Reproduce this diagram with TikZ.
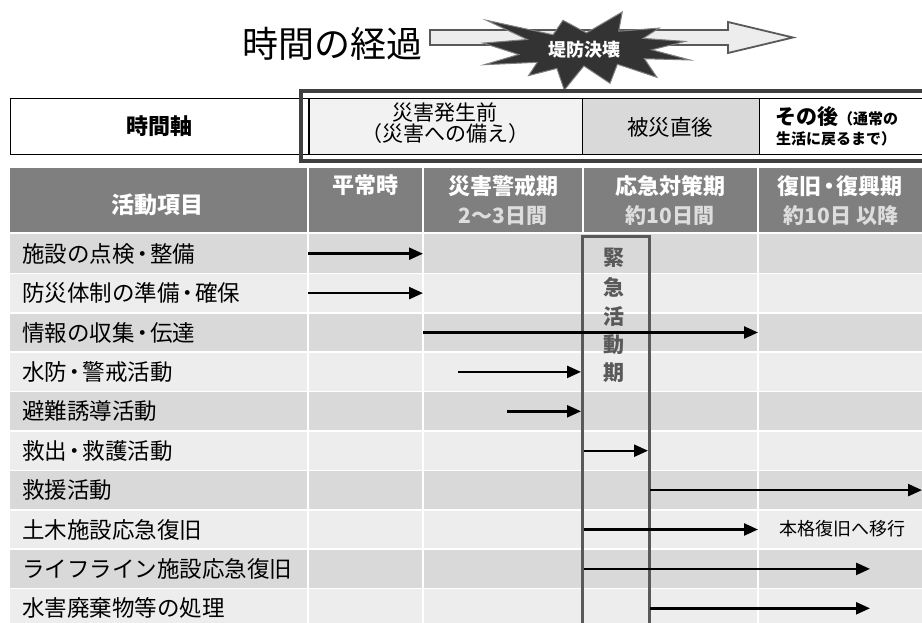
\documentclass[tikz,border=0pt]{standalone}
\usepackage{fontspec}
\setmainfont{Noto Sans CJK JP}
\usetikzlibrary{arrows.meta}
\definecolor{hdr}{HTML}{7F7F7F}
\definecolor{rowA}{HTML}{D9D9D9}
\definecolor{rowB}{HTML}{EDEDED}
\definecolor{frameC}{HTML}{404040}
\definecolor{boxC}{HTML}{595959}
\definecolor{cellA}{HTML}{F2F2F2}
\definecolor{cellB}{HTML}{D9D9D9}
\definecolor{starC}{HTML}{333333}
\definecolor{subC}{HTML}{DDDDDD}
\newcommand\fsz[1]{\fontsize{#1}{#1}\selectfont}
\newcommand\nkg{\kern-3.5pt・\kern-3.5pt}
\begin{document}
\begin{tikzpicture}[x=1pt,y=-1pt,
  actarrow/.style={line width=2.4pt,-{Triangle[length=14pt,width=12pt]}},
  rowlabel/.style={anchor=west,inner sep=0pt,font=\fsz{22.5}},
  hdrtext/.style={text=white,font=\fsz{22}\bfseries,align=center,inner sep=0pt},
  subtext/.style={text=subC,font=\fsz{21}\bfseries,inner sep=0pt},
  topcell/.style={draw=black,line width=0.8pt,inner sep=0pt,align=center},
  vchar/.style={inner sep=0pt,text=boxC,font=\fsz{21}\bfseries},
  sepline/.style={white,line width=1.6pt}]
\useasboundingbox (0,0) rectangle (922,623);
\clip (0,0) rectangle (922,623);
\fill[white] (0,0) rectangle (922,623);

% --- time arrow ---
\node[inner sep=0pt,font=\fsz{36}] (keika) at (332,44) {時間の経過};
\draw[boxC,line width=1.8pt,fill=rowB] (430,30) -- (728,30) -- (728,22) -- (793,37.5) -- (728,53) -- (728,45) -- (430,45) -- cycle;
\draw[gray,line width=1pt,fill=starC]
 (586.5,32.9) -- (622.2,12) -- (618.7,31.2) -- (659.1,28.1) -- (643.1,38.4) -- (685.2,41.4)
 -- (651.7,49.8) -- (690,60) -- (644.4,58.7) -- (656.9,77.3) -- (617.4,64.2) -- (610,83.3)
 -- (583.9,65.9) -- (564.3,90) -- (556.9,68.4) -- (528.6,75.6) -- (537.3,62.3) -- (484.3,64.7)
 -- (518.7,54.5) -- (483,43.1) -- (527.3,39.5) -- (486.5,20.3) -- (553.1,34.8) -- (563,20.3) -- cycle;
\node[inner sep=0pt,text=white,font=\fsz{18}\bfseries] (kekkai) at (584,50) {堤防決壊};

% --- header row 1 ---
\node[topcell,fill=white,minimum width=298pt,minimum height=56pt,font=\fsz{22}\bfseries] (jikan) at (159,126) {時間軸};
\node[topcell,fill=cellA,minimum width=273pt,minimum height=56pt] (mae) at (445.5,126) {};
\node[topcell,fill=cellB,minimum width=177pt,minimum height=56pt] (chokugo) at (670.5,126) {};
\node[topcell,fill=white,minimum width=170pt,minimum height=56pt] (sonogo) at (844,126) {};
\node[inner sep=0pt,font=\fsz{21}] (maeT1) at (445,113) {災害発生前};
\node[inner sep=0pt,font=\fsz{21}] (maeT2) at (445,134) {（災害への備え）};
\node[inner sep=0pt,font=\fsz{21.5}] (chokugoT) at (670,127) {被災直後};
\node[inner sep=0pt,anchor=west] (sonogoT1) at (775,117) {{\fsz{21}\bfseries その後}{\fsz{15}\bfseries （通常の}};
\node[inner sep=0pt,anchor=west,font=\fsz{15}\bfseries] (sonogoT2) at (776,139) {生活に戻るまで）};
\draw[frameC,line width=3.5pt] (301,91) rectangle (935,161);

% --- header row 2 ---
\fill[hdr] (10,168) rectangle (925,232);
\foreach \xx in {308,423,583,758} \draw[sepline] (\xx,168) -- (\xx,232);
\node[hdrtext,font=\fsz{23}\bfseries] (katsudo) at (157,205) {活動項目};
\node[hdrtext] (heijo) at (365,185) {平常時};
\node[hdrtext] (keikai) at (503,186) {災害警戒期};
\node[subtext] (keikaiS) at (503,216) {2〜3日間};
\node[hdrtext] (okyu) at (670,186) {応急対策期};
\node[subtext] (okyuS) at (670,216) {約10日間};
\node[hdrtext] (fukkyu) at (840,186) {復旧\nkg 復興期};
\node[subtext] (fukkyuS) at (841,216) {約10日 以降};

% --- rows ---
\fill[rowA] (10,234) rectangle (925,273.4);
\fill[rowB] (10,273.4) rectangle (925,312.8);
\fill[rowA] (10,312.8) rectangle (925,352.2);
\fill[rowB] (10,352.2) rectangle (925,391.6);
\fill[rowA] (10,391.6) rectangle (925,431);
\fill[rowB] (10,431) rectangle (925,470.4);
\fill[rowA] (10,470.4) rectangle (925,509.8);
\fill[rowB] (10,509.8) rectangle (925,549.2);
\fill[rowA] (10,549.2) rectangle (925,588.6);
\fill[rowB] (10,588.6) rectangle (925,628);
\foreach \yy in {273.4,312.8,352.2,391.6,431,470.4,509.8,549.2,588.6} \draw[sepline] (10,\yy) -- (925,\yy);
\foreach \xx in {308,423,758} \draw[sepline] (\xx,234) -- (\xx,630);

\node[rowlabel] (r1) at (22,253.7) {施設の点検\nkg 整備};
\node[rowlabel] (r2) at (22,293.1) {防災体制の準備\nkg 確保};
\node[rowlabel] (r3) at (22,332.5) {情報の収集\nkg 伝達};
\node[rowlabel] (r4) at (22,371.9) {水防\nkg 警戒活動};
\node[rowlabel] (r5) at (22,411.3) {避難誘導活動};
\node[rowlabel] (r6) at (22,450.7) {救出\nkg 救護活動};
\node[rowlabel] (r7) at (22,490.1) {救援活動};
\node[rowlabel] (r8) at (22,529.5) {土木施設応急復旧};
\node[rowlabel] (r9) at (22,568.9) {ライフライン施設応急復旧};
\node[rowlabel] (r10) at (22,608.3) {水害廃棄物等の処理};

% --- emergency box ---
\draw[boxC,line width=3pt] (582,640) -- (582,237) -- (649,237) -- (649,640);
\node[vchar] (v1) at (614,258) {緊};
\node[vchar] (v2) at (614,287.5) {急};
\node[vchar] (v3) at (614,316.5) {活};
\node[vchar] (v4) at (614,345) {動};
\node[vchar] (v5) at (614,373) {期};

% --- arrows ---
\coordinate (a1s) at (308,253.7); \coordinate (a1e) at (423,253.7);
\coordinate (a2s) at (308,293.1); \coordinate (a2e) at (423,293.1);
\coordinate (a3s) at (423,332.5); \coordinate (a3e) at (758,332.5);
\coordinate (a4s) at (458,371.9); \coordinate (a4e) at (581,371.9);
\coordinate (a5s) at (507,411.3); \coordinate (a5e) at (581,411.3);
\coordinate (a6s) at (584,450.7); \coordinate (a6e) at (648,450.7);
\coordinate (a7s) at (650,490.1); \coordinate (a7e) at (922,490.1);
\coordinate (a8s) at (584,529.5); \coordinate (a8e) at (758,529.5);
\coordinate (a9s) at (584,568.9); \coordinate (a9e) at (870,568.9);
\coordinate (a10s) at (650,608.3); \coordinate (a10e) at (870,608.3);
\foreach \k in {1,...,10} \draw[actarrow] (a\k s) -- (a\k e);
\node[inner sep=0pt,font=\fsz{18}] (honkaku) at (842,529) {本格復旧へ移行};
\end{tikzpicture}
\end{document}
